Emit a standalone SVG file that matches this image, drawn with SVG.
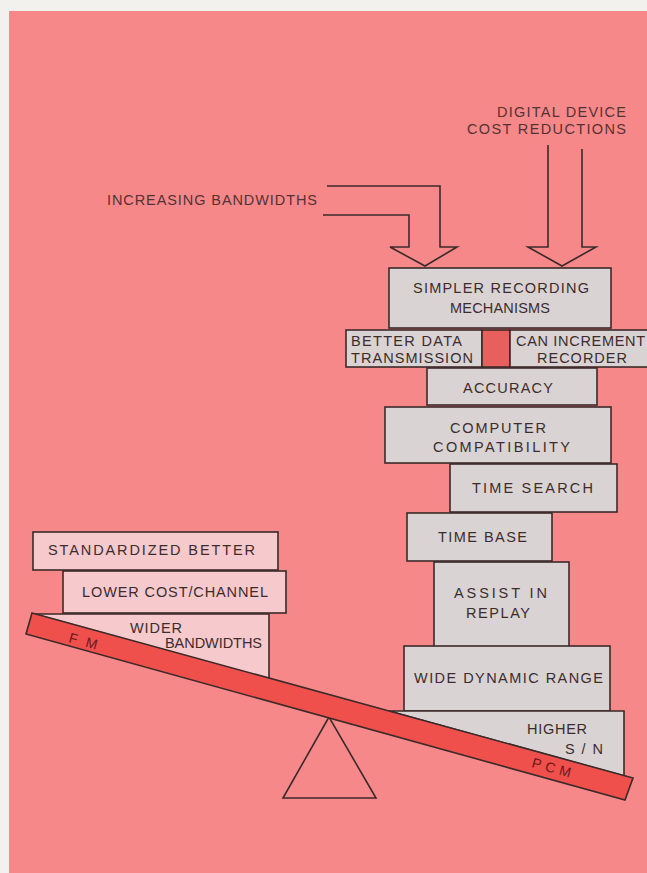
<svg xmlns="http://www.w3.org/2000/svg" width="647" height="873" viewBox="0 0 647 873">
<style>
.box{fill:#d9d3d3;stroke:#3b2a2a;stroke-width:1.6}
.pbox{fill:#f6c9cc;stroke:#3b2a2a;stroke-width:1.6}
.t{font-family:"Liberation Sans",Arial,sans-serif;font-size:14.5px;fill:#3e2c2c}
.lbl{font-family:"Liberation Sans",Arial,sans-serif;font-size:14.5px;fill:#553232}
.beamt{font-family:"Liberation Sans",Arial,sans-serif;font-size:14px;fill:#6e1a1a}
.arrow{fill:none;stroke:#3b2a2a;stroke-width:1.6;stroke-linejoin:miter}
</style>
<rect x="0" y="0" width="647" height="873" fill="#f3f1ee"/>
<rect x="9" y="11" width="638" height="862" fill="#f7888a"/>

<g id="labels">
<text class="lbl" x="107" y="205" textLength="210" lengthAdjust="spacing">INCREASING  BANDWIDTHS</text>
<text class="lbl" x="497" y="117" textLength="129" lengthAdjust="spacing">DIGITAL DEVICE</text>
<text class="lbl" x="467" y="134" textLength="159" lengthAdjust="spacing">COST REDUCTIONS</text>
</g>

<g id="connectors">
<path class="arrow" d="M327,186 H440 V247 H457 L425,266 L390,247 H409 V215 H323"/>
<path class="arrow" d="M548,145 V247 H528 L562,266 L596,247 H582 V149"/>
</g>

<g id="simpler-recording">
<rect class="box" x="389" y="268" width="222" height="60"/>
<text class="t" x="413" y="293" textLength="176" lengthAdjust="spacing">SIMPLER  RECORDING</text>
<text class="t" x="450" y="313" textLength="100" lengthAdjust="spacing">MECHANISMS</text>
</g>

<g id="better-data">
<rect class="box" x="346" y="330" width="136" height="37"/>
<text class="t" x="351" y="346" textLength="111" lengthAdjust="spacing">BETTER  DATA</text>
<text class="t" x="351" y="363" textLength="122" lengthAdjust="spacing">TRANSMISSION</text>
</g>
<rect x="482" y="330" width="28" height="37" fill="#e8605e" stroke="#3b2a2a" stroke-width="1.6"/>
<g id="can-increment">
<rect class="box" x="510" y="330" width="142" height="37"/>
<text class="t" x="516" y="346" textLength="129" lengthAdjust="spacing">CAN INCREMENT</text>
<text class="t" x="537" y="363" textLength="90" lengthAdjust="spacing">RECORDER</text>
</g>

<g id="accuracy">
<rect class="box" x="427" y="368" width="170" height="37"/>
<text class="t" x="463" y="393" textLength="90" lengthAdjust="spacing">ACCURACY</text>
</g>

<g id="computer-compatibility">
<rect class="box" x="385" y="407" width="226" height="56"/>
<text class="t" x="450" y="433" textLength="96" lengthAdjust="spacing">COMPUTER</text>
<text class="t" x="433" y="452" textLength="137" lengthAdjust="spacing">COMPATIBILITY</text>
</g>

<g id="time-search">
<rect class="box" x="450" y="464" width="167" height="48"/>
<text class="t" x="472" y="493" textLength="121" lengthAdjust="spacing">TIME  SEARCH</text>
</g>

<g id="time-base">
<rect class="box" x="407" y="513" width="145" height="48"/>
<text class="t" x="438" y="542" textLength="89" lengthAdjust="spacing">TIME BASE</text>
</g>

<g id="assist-replay">
<rect class="box" x="434" y="562" width="135" height="85"/>
<text class="t" x="454" y="598" textLength="93" lengthAdjust="spacing">ASSIST  IN</text>
<text class="t" x="466" y="618" textLength="64" lengthAdjust="spacing">REPLAY</text>
</g>

<g id="wide-dynamic-range">
<rect class="box" x="404" y="646" width="206" height="65"/>
<text class="t" x="414" y="683" textLength="189" lengthAdjust="spacing">WIDE  DYNAMIC  RANGE</text>
</g>

<g id="higher-sn">
<polygon class="box" points="389,711 624,711 624,776"/>
<text class="t" x="527" y="734" textLength="60" lengthAdjust="spacing">HIGHER</text>
<text class="t" x="565" y="754" textLength="38" lengthAdjust="spacing">S / N</text>
</g>

<g id="standardized-better">
<rect class="pbox" x="33" y="532" width="245" height="38"/>
<text class="t" x="48" y="555" textLength="207" lengthAdjust="spacing">STANDARDIZED  BETTER</text>
</g>

<g id="lower-cost">
<rect class="pbox" x="63" y="571" width="223" height="42"/>
<text class="t" x="82" y="597" textLength="186" lengthAdjust="spacing">LOWER COST/CHANNEL</text>
</g>

<g id="wider-bandwidths">
<polygon class="pbox" points="34,614 269,614 269,679"/>
<text class="t" x="130" y="633" textLength="52" lengthAdjust="spacing">WIDER</text>
<text class="t" x="165" y="648" textLength="97" lengthAdjust="spacing">BANDWIDTHS</text>
</g>

<g id="fulcrum">
<polygon points="329,717 283,798 376,798" fill="none" stroke="#3b2a2a" stroke-width="1.6"/>
</g>

<g id="beam">
<polygon points="32,613 633,778 625,800 26,634" fill="#f0504c" stroke="#3b2a2a" stroke-width="1.6"/>
<text class="beamt" x="68" y="642" transform="rotate(15.4 68 642)" textLength="29" lengthAdjust="spacing">F M</text>
<text class="beamt" x="531" y="767" transform="rotate(15.4 531 767)" textLength="40" lengthAdjust="spacing">PCM</text>
</g>
</svg>
